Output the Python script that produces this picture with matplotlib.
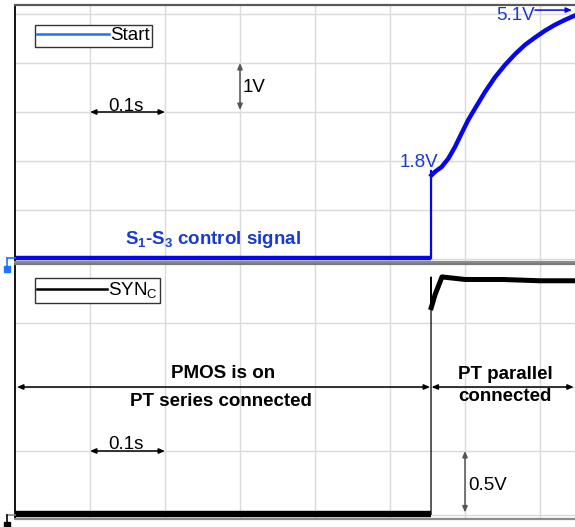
import matplotlib
matplotlib.use("Agg")
import matplotlib.pyplot as plt
from matplotlib.lines import Line2D

# time in seconds, voltages in volts
grid_t = [0.1, 0.2, 0.3, 0.4, 0.5, 0.6, 0.7]
start_grid_v = [0, 1, 2, 3, 4, 5]
syn_grid_v = [0, 0.5, 1.0, 1.5]

start_t = [0.0, 0.5547, 0.5547, 0.5553, 0.560, 0.5689, 0.5778, 0.5867, 0.5956,
           0.6044, 0.6133, 0.6267, 0.640, 0.6533, 0.6667, 0.680, 0.6933,
           0.7067, 0.720, 0.7333, 0.7467]
start_v = [0.02, 0.02, 1.80, 1.71, 1.78, 1.88, 2.05, 2.29, 2.57,
           2.84, 3.07, 3.41, 3.71, 3.96, 4.18, 4.37, 4.52,
           4.66, 4.78, 4.88, 4.97]

syn_t = [0.0, 0.5547, 0.5547, 0.5550, 0.5600, 0.5693, 0.60, 0.65, 0.70, 0.7467]
syn_v = [0.005, 0.005, 1.86, 1.62, 1.72, 1.86, 1.84, 1.84, 1.83, 1.83]

switch_t = 0.5547

plt.rcParams["font.family"] = ["Liberation Sans", "DejaVu Sans"]
plt.rcParams["mathtext.fontset"] = "custom"
plt.rcParams["mathtext.rm"] = "Liberation Sans"
plt.rcParams["mathtext.bf"] = "Liberation Sans:bold"

W, H = 575, 527
FS = 13.5
BLUE = "#0505ee"
TXT_BLUE = "#1a3ccc"


def fx(px):
    return px / W


def fy(py):
    return 1 - py / H


fig = plt.figure(figsize=(W / 100, H / 100), dpi=100)
ax1 = fig.add_axes([fx(15), fy(262), 1 - fx(15), (262 - 5) / H])
ax2 = fig.add_axes([fx(15), fy(519), 1 - fx(15), (519 - 264) / H])

ax1.set_ylim(-3 / 49, 254 / 49)
ax2.set_ylim(-4 / 128, 251 / 128)
for ax, yt in [(ax1, start_grid_v), (ax2, syn_grid_v)]:
    ax.set_xlim(0, 560 / 750)
    ax.set_xticks(grid_t)
    ax.set_yticks(yt)
    ax.grid(True, color="#dadada", lw=1.0)
    ax.set_axisbelow(True)
    ax.tick_params(length=0, labelbottom=False, labelleft=False)
    ax.spines["right"].set_visible(False)
    ax.spines["left"].set_color("black")
    ax.spines["left"].set_linewidth(1.3)
    ax.spines["top"].set_color("#7a7a7a")
    ax.spines["top"].set_linewidth(1.6)
    ax.spines["bottom"].set_color("#8c8c8c")
    ax.spines["bottom"].set_linewidth(1.6)
ax1.spines["top"].set_color("#5a5a5a")

# Start trace
ax1.plot(start_t[:2], start_v[:2], color=BLUE, lw=3.2, solid_capstyle="butt")
ax1.plot(start_t[1:4], start_v[1:4], color=BLUE, lw=1.6)
ax1.plot(start_t[3:], start_v[3:], color=BLUE, lw=3.2, solid_joinstyle="round")

# SYN_C trace
ax2.plot(syn_t[:2], syn_v[:2], color="black", lw=4.6, solid_capstyle="butt")
ax2.plot(syn_t[1:4], syn_v[1:4], color="black", lw=0.9)
ax2.plot(syn_t[3:], syn_v[3:], color="black", lw=3.6, solid_joinstyle="round")

# legends
h1 = Line2D([], [], color="#1f73ff", lw=1.8)
ax1.legend([h1], ["Start"], loc="upper left", bbox_to_anchor=(20 / 560, 1 - 20 / 257),
           borderaxespad=0, fontsize=FS, handlelength=3.8, handletextpad=0.1,
           borderpad=0.12, fancybox=False, framealpha=1, edgecolor="#333333")
h2 = Line2D([], [], color="black", lw=1.8)
ax2.legend([h2], [r"SYN$_\mathrm{C}$"], loc="upper left",
           bbox_to_anchor=(20 / 560, 1 - 14 / 255),
           borderaxespad=0, fontsize=FS, handlelength=3.7, handletextpad=0.1,
           borderpad=0.12, fancybox=False, framealpha=1, edgecolor="#333333")


def arrow(ax, p0, p1, color="black", style="<|-|>"):
    ax.annotate("", xy=p1, xytext=p0,
                arrowprops=dict(arrowstyle=style + ",head_length=0.35,head_width=0.15",
                                color=color, lw=1.1, shrinkA=0, shrinkB=0,
                                mutation_scale=10))


# top panel annotations
arrow(ax1, (0.1, 3.0), (0.2, 3.0))
ax1.text(0.1473, 3.03, "0.1s", fontsize=FS, ha="center", va="baseline")
arrow(ax1, (0.3, 4.0), (0.3, 3.04), color="#555555")
ax1.text(0.304, 3.49, "1V", fontsize=FS, ha="left", va="center")
ax1.text(0.564, 1.96, "1.8V", fontsize=FS, ha="right", va="center", color=TXT_BLUE)
ax1.text(0.6933, 4.97, "5.1V", fontsize=FS, ha="right", va="center", color=TXT_BLUE)
arrow(ax1, (0.6933, 5.08), (0.7427, 5.08), color=BLUE, style="-|>")
ax1.text(0.1467, 0.39, r"$\mathbf{S_1}$-$\mathbf{S_3}$ control signal", fontsize=FS,
         fontweight="bold", ha="left", va="center", color=TXT_BLUE)

# bottom panel annotations
arrow(ax2, (0.0027, 1.0), (switch_t - 0.0013, 1.0))
arrow(ax2, (switch_t + 0.0007, 1.0), (0.745, 1.0))
ax2.text(0.2773, 1.109, "PMOS is on", fontsize=FS, fontweight="bold",
         ha="center", va="center")
ax2.text(0.2747, 0.883, "PT series connected", fontsize=FS, fontweight="bold",
         ha="center", va="center")
ax2.text(0.6533, 1.094, "PT parallel", fontsize=FS, fontweight="bold",
         ha="center", va="center")
ax2.text(0.6533, 0.922, "connected", fontsize=FS, fontweight="bold",
         ha="center", va="center")
arrow(ax2, (0.1, 0.5), (0.2, 0.5))
ax2.text(0.1473, 0.515, "0.1s", fontsize=FS, ha="center", va="baseline")
arrow(ax2, (0.6, 0.5), (0.6, 0.02), color="#555555")
ax2.text(0.604, 0.234, "0.5V", fontsize=FS, ha="left", va="center")

# ground markers on the left edge
fig.add_artist(Line2D([fx(7), fx(15)], [fy(258), fy(258)], color="#1f73ff", lw=1.2))
fig.add_artist(Line2D([fx(7), fx(7)], [fy(258), fy(267)], color="#1f73ff", lw=1.2))
fig.add_artist(Line2D([fx(7)], [fy(269)], marker="s", ms=4, color="#1f73ff"))
fig.add_artist(Line2D([fx(7), fx(15)], [fy(515), fy(515)], color="#888888", lw=1.2))
fig.add_artist(Line2D([fx(7), fx(7)], [fy(515), fy(523)], color="black", lw=1.2))
fig.add_artist(Line2D([fx(7)], [fy(525)], marker="s", ms=4, color="black"))

fig.savefig("out.png", dpi=100)
